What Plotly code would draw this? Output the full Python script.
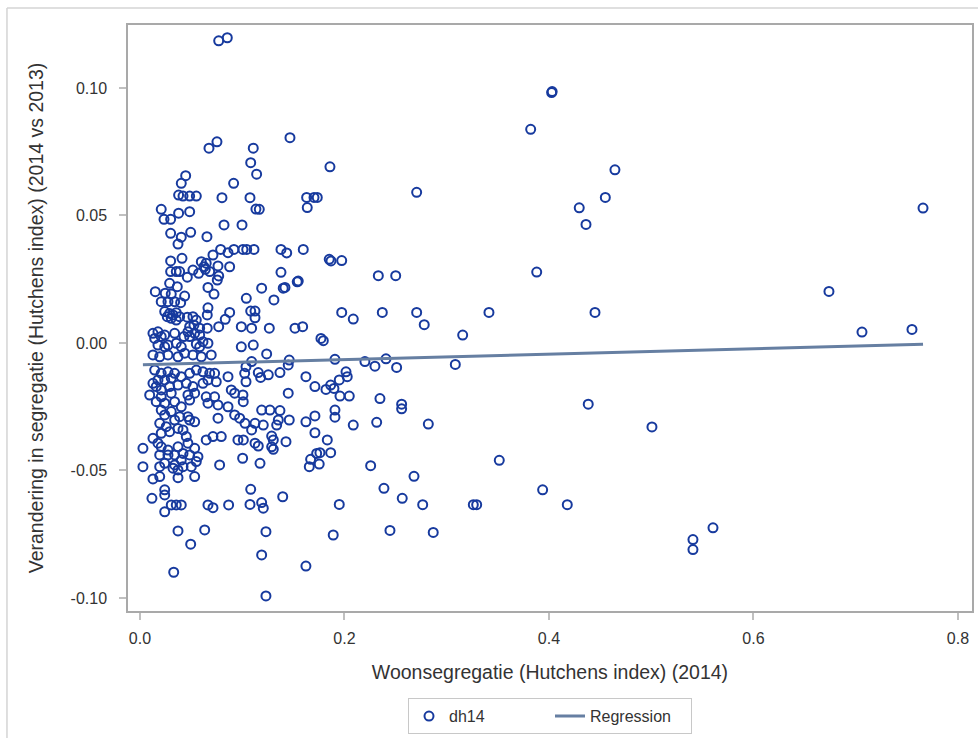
import plotly.graph_objects as go

# Woonsegregatie 2014 (Hutchens index) per gemeente
x_seg2014 = [
    0.077, 0.0854, 0.0675, 0.0753, 0.0447, 0.0404, 0.0916, 0.0378, 0.0421, 0.0486, 0.0551, 0.0802,
    0.0208, 0.0235, 0.030, 0.0378, 0.0486, 0.0822, 0.0998, 0.030, 0.0404, 0.0496, 0.0372, 0.0655,
    0.030, 0.0411, 0.060, 0.0648, 0.0626, 0.0714, 0.0789, 0.0861, 0.0919, 0.1007, 0.030, 0.0355,
    0.0388, 0.0463, 0.0518, 0.0574, 0.0639, 0.0682, 0.0763, 0.077, 0.0756, 0.0877, 0.029, 0.0365,
    0.0665, 0.0724, 0.015, 0.0247, 0.0306, 0.0437, 0.0208, 0.0274, 0.0339, 0.0398, 0.0242, 0.029,
    0.0323, 0.0355, 0.0306, 0.0355, 0.0267, 0.0388, 0.0463, 0.0518, 0.0551, 0.0665, 0.0658, 0.0834,
    0.0877, 0.077, 0.0658, 0.0584, 0.0528, 0.0486, 0.0469, 0.0127, 0.0176, 0.0208, 0.0144, 0.0242,
    0.0339, 0.0355, 0.043, 0.0486, 0.0535, 0.0584, 0.0616, 0.0665, 0.0551, 0.0274, 0.0991, 0.104,
    0.0991,
    0.0127, 0.0193, 0.0274, 0.0372, 0.0437, 0.0518, 0.060, 0.0697, 0.0242, 0.0404, 0.0584, 0.0176,
    0.0144, 0.0208, 0.0274, 0.0339, 0.0176, 0.0242, 0.0306, 0.0404, 0.0486, 0.0551, 0.0616, 0.0682,
    0.073, 0.0861, 0.1024, 0.0127, 0.0159, 0.0208, 0.029, 0.0372, 0.0453, 0.0518, 0.0616, 0.0665,
    0.0746, 0.0095, 0.0208, 0.0306, 0.0469, 0.0486, 0.0535, 0.0648, 0.073, 0.0665, 0.0763, 0.0861,
    0.0893, 0.0926, 0.1007, 0.0159, 0.0242, 0.0339, 0.0404, 0.0208, 0.0306, 0.0242, 0.0388, 0.0469,
    0.0535, 0.0339, 0.0763, 0.0926, 0.0975, 0.0193, 0.0257, 0.0372, 0.0421, 0.029, 0.0208, 0.0127,
    0.0176, 0.0453, 0.0486, 0.0648, 0.0714, 0.0795, 0.0958, 0.0029, 0.0208, 0.0274, 0.0372, 0.0469,
    0.0535, 0.0193, 0.0274, 0.0339, 0.0421, 0.0486, 0.0567, 0.0551, 0.0404, 0.0339, 0.0242, 0.0029,
    0.0779,
    0.0193, 0.0323, 0.0372, 0.0421, 0.0502, 0.0127, 0.0193, 0.0372, 0.0535, 0.0242, 0.0242, 0.0117,
    0.0306, 0.0355, 0.0404, 0.0242, 0.0665, 0.0714, 0.0867, 0.0372, 0.0633, 0.0496, 0.033,
    0.1467, 0.1108, 0.1083, 0.1141, 0.1858, 0.1076, 0.1134, 0.1167, 0.163, 0.1702, 0.1734, 0.1636,
    0.1044, 0.1115, 0.1379, 0.1435, 0.1597, 0.1851, 0.1973, 0.1379, 0.119, 0.1401, 0.1538, 0.131,
    0.1083, 0.1125, 0.1125, 0.1973, 0.2086, 0.1092, 0.1265, 0.1516, 0.1591, 0.177, 0.1793, 0.1108,
    0.1868, 0.1548, 0.1418,
    0.1239, 0.1092, 0.1037, 0.146, 0.145, 0.1907, 0.220, 0.1157, 0.118, 0.1255, 0.1369, 0.1037,
    0.1623, 0.1711, 0.1819, 0.1865, 0.1897, 0.1949, 0.2015, 0.2027, 0.1956, 0.2047, 0.145, 0.101,
    0.119, 0.1271, 0.1369, 0.146, 0.1027, 0.1092, 0.1125, 0.1206, 0.1337, 0.1353, 0.1623, 0.1711,
    0.1907, 0.1907, 0.2086, 0.1711, 0.1832, 0.1011, 0.1125, 0.1157, 0.1288, 0.1304, 0.1288, 0.1304,
    0.1428, 0.1728, 0.176, 0.1865, 0.1669, 0.1656, 0.1753, 0.1004, 0.1174, 0.2256, 0.1083, 0.1076,
    0.119, 0.1206, 0.1396, 0.1949, 0.1232, 0.189, 0.119, 0.1623, 0.1232,
    0.4026, 0.4031, 0.3821, 0.4645, 0.4551, 0.4296, 0.4362, 0.2706, 0.2331, 0.2501, 0.388, 0.237,
    0.2706, 0.278, 0.3413, 0.445, 0.3156, 0.2406, 0.2298, 0.251, 0.3084, 0.2347, 0.2559, 0.2559,
    0.2315, 0.282, 0.4384, 0.5007, 0.3514, 0.268, 0.2386, 0.2565, 0.2765, 0.326, 0.3293, 0.3938,
    0.4179, 0.2445, 0.2868,
    0.7658, 0.6738, 0.7061, 0.755, 0.5604, 0.5408, 0.5408,
]

# Verandering in segregatie 2014 t.o.v. 2013
y_change = [
    0.1185, 0.1197, 0.0764, 0.0789, 0.0656, 0.0626, 0.0626, 0.058, 0.0576, 0.0576, 0.0576, 0.057,
    0.0524, 0.0485, 0.0485, 0.0509, 0.0515, 0.0463, 0.0463, 0.043, 0.0415, 0.0434, 0.0388, 0.0417,
    0.0322, 0.0332, 0.0319, 0.0313, 0.0299, 0.0345, 0.0367, 0.0354, 0.0367, 0.0367, 0.028, 0.028,
    0.028, 0.0258, 0.0286, 0.0273, 0.0289, 0.028, 0.0302, 0.0263, 0.0247, 0.0299, 0.0234, 0.0221,
    0.0218, 0.0192, 0.0201, 0.0195, 0.0192, 0.0184, 0.0162, 0.0162, 0.0162, 0.0158, 0.0123, 0.0116,
    0.011, 0.0119, 0.0097, 0.009, 0.0103, 0.0103, 0.0101, 0.0103, 0.009, 0.0138, 0.011, 0.0093,
    0.012, 0.0064, 0.0058, 0.0058, 0.0071, 0.0064, 0.0044, 0.0038, 0.0044, 0.0025, 0.0018, 0.0031,
    0.0038, -0.0001, 0.0025, 0.0025, 0.0038, 0.0031, 0.0005, -0.0001, -0.0004, -0.0008, 0.0064, 0.0175,
    -0.0015,
    -0.0047, -0.0054, -0.0047, -0.0054, -0.004, -0.0047, -0.0054, -0.0047, -0.0015, -0.0015, -0.0015, -0.0008,
    -0.0106, -0.0119, -0.0113, -0.0119, -0.0145, -0.0145, -0.0138, -0.0132, -0.0119, -0.0106, -0.0113, -0.0119,
    -0.0119, -0.0132, -0.0119, -0.0158, -0.0171, -0.0184, -0.0171, -0.0165, -0.0158, -0.0171, -0.0158, -0.0145,
    -0.0152, -0.0204, -0.0211, -0.0197, -0.0204, -0.0224, -0.0197, -0.0211, -0.0211, -0.0236, -0.0243, -0.025,
    -0.0184, -0.0197, -0.0204, -0.023, -0.0236, -0.023, -0.025, -0.0263, -0.0269, -0.0282, -0.0289, -0.0289,
    -0.0309, -0.0302, -0.0295, -0.0282, -0.0295, -0.0315, -0.0328, -0.0335, -0.0341, -0.0348, -0.0354, -0.0374,
    -0.0393, -0.0367, -0.0302, -0.038, -0.0367, -0.0367, -0.038, -0.0413, -0.0407, -0.042, -0.0407, -0.0393,
    -0.0413, -0.0439, -0.0439, -0.0439, -0.0433, -0.0439, -0.0446, -0.0465, -0.0459, -0.0478, -0.0472, -0.0485,
    -0.0478,
    -0.0485, -0.0491, -0.0498, -0.0485, -0.0485, -0.0533, -0.0524, -0.0528, -0.0524, -0.0576, -0.0596, -0.0609,
    -0.0635, -0.0635, -0.0635, -0.0662, -0.0635, -0.0646, -0.0635, -0.0737, -0.0733, -0.0789, -0.0899,
    0.0805, 0.0764, 0.0707, 0.0662, 0.0691, 0.057, 0.0525, 0.0524, 0.0571, 0.0571, 0.0571, 0.0531,
    0.0367, 0.0367, 0.0367, 0.0353, 0.0367, 0.0328, 0.0323, 0.0277, 0.0215, 0.0215, 0.024, 0.0169,
    0.0125, 0.0125, 0.0099, 0.012, 0.0094, 0.0058, 0.0058, 0.0058, 0.0064, 0.0018, 0.0009, -0.0008,
    0.0322, 0.0243, 0.0218,
    -0.0043, -0.0073, -0.0093, -0.0067, -0.0086, -0.0064, -0.0073, -0.0116, -0.0135, -0.0125, -0.0116, -0.0152,
    -0.0132, -0.0171, -0.0182, -0.0165, -0.0178, -0.0145, -0.0113, -0.0132, -0.0208, -0.0208, -0.0197, -0.023,
    -0.0263, -0.0263, -0.0265, -0.0302, -0.0315, -0.0341, -0.0315, -0.0322, -0.0322, -0.0302, -0.0309, -0.0286,
    -0.0263, -0.0291, -0.0322, -0.0352, -0.038, -0.038, -0.0393, -0.0404, -0.0365, -0.038, -0.0407, -0.0417,
    -0.0387, -0.0433, -0.043, -0.043, -0.0456, -0.0485, -0.0475, -0.0452, -0.0472, -0.0481, -0.0574, -0.0633,
    -0.0626, -0.0648, -0.0603, -0.0633, -0.074, -0.0753, -0.0831, -0.0875, -0.0992,
    0.0982, 0.0986, 0.0838, 0.0679, 0.0571, 0.053, 0.0465, 0.0591, 0.0264, 0.0264, 0.0278, 0.012,
    0.012, 0.0072, 0.012, 0.012, 0.0031, -0.0062, -0.0091, -0.0096, -0.0084, -0.0218, -0.024, -0.0258,
    -0.0311, -0.0318, -0.024, -0.0329, -0.046, -0.0523, -0.057, -0.0609, -0.0634, -0.0634, -0.0634, -0.0576,
    -0.0634, -0.0735, -0.0743,
    0.0529, 0.0202, 0.0043, 0.0053, -0.0725, -0.0771, -0.081,
]

# Lineaire regressie: intercept en helling
reg_intercept = -0.0086
reg_slope = 0.0106

x_ticks = [0.0, 0.2, 0.4, 0.6, 0.8]
y_ticks = [-0.10, -0.05, 0.00, 0.05, 0.10]

marker_color = "#173A9E"
fit_color = "#667FA2"
frame_color = "#A9A9A9"
text_color = "#333333"
font_family = "Liberation Sans, Arial, sans-serif"

x_lo, x_hi = min(x_seg2014), max(x_seg2014)
fit_x = [x_lo, x_hi]
fit_y = [reg_intercept + reg_slope * v for v in fit_x]

fig = go.Figure()
fig.add_trace(go.Scatter(
    x=x_seg2014, y=y_change, mode="markers", name="dh14",
    marker=dict(symbol="circle-open", size=9, color=marker_color,
                line=dict(width=2, color=marker_color)),
))
fig.add_trace(go.Scatter(
    x=fit_x, y=fit_y, mode="lines", name="Regression",
    line=dict(color=fit_color, width=3),
))

axis_common = dict(
    showgrid=False, zeroline=False, showline=True, mirror=True,
    linecolor=frame_color, linewidth=1.5,
    ticks="outside", ticklen=7, tickwidth=1.5, tickcolor="#C0C0C0",
    tickfont=dict(size=16, color=text_color, family=font_family),
)
title_font = dict(size=19.5, color=text_color, family=font_family)

fig.update_xaxes(
    range=[-0.0117, 0.8137], tickvals=x_ticks,
    ticktext=[f"{v:.1f}" for v in x_ticks],
    ticklabelstandoff=5,
    title=dict(text="Woonsegregatie (Hutchens index) (2014)", font=title_font, standoff=19),
    **axis_common,
)
fig.update_yaxes(
    range=[-0.1051, 0.1247], tickvals=y_ticks,
    ticktext=[f"{v:.2f}" for v in y_ticks],
    ticklabelstandoff=9,
    title=dict(text="Verandering in segregatie (Hutchens index) (2014 vs 2013)",
               font=title_font, standoff=22),
    **axis_common,
)

fig.update_layout(
    width=978, height=738,
    margin=dict(l=128, r=6, t=25, b=127, autoexpand=False),
    paper_bgcolor="white", plot_bgcolor="white",
    font=dict(family=font_family, color=text_color),
    showlegend=True,
    legend=dict(
        orientation="h", x=0.5, xanchor="center",
        yref="container", y=0.054, yanchor="top",
        bordercolor="#C8C8C8", borderwidth=1, bgcolor="white",
        font=dict(size=16, color=text_color, family=font_family),
        entrywidth=96, entrywidthmode="pixels", itemwidth=30,
    ),
    shapes=[
        # outer frame (top and left edges)
        dict(type="line", xref="paper", yref="paper", x0=-0.1434, x1=1.01, y0=1.029, y1=1.029,
             line=dict(color="#D4D4D4", width=1.5)),
        dict(type="line", xref="paper", yref="paper", x0=-0.1434, x1=-0.1434, y0=1.029, y1=-0.22,
             line=dict(color="#D4D4D4", width=1.5)),
    ],
)

fig.write_html("out.html")
